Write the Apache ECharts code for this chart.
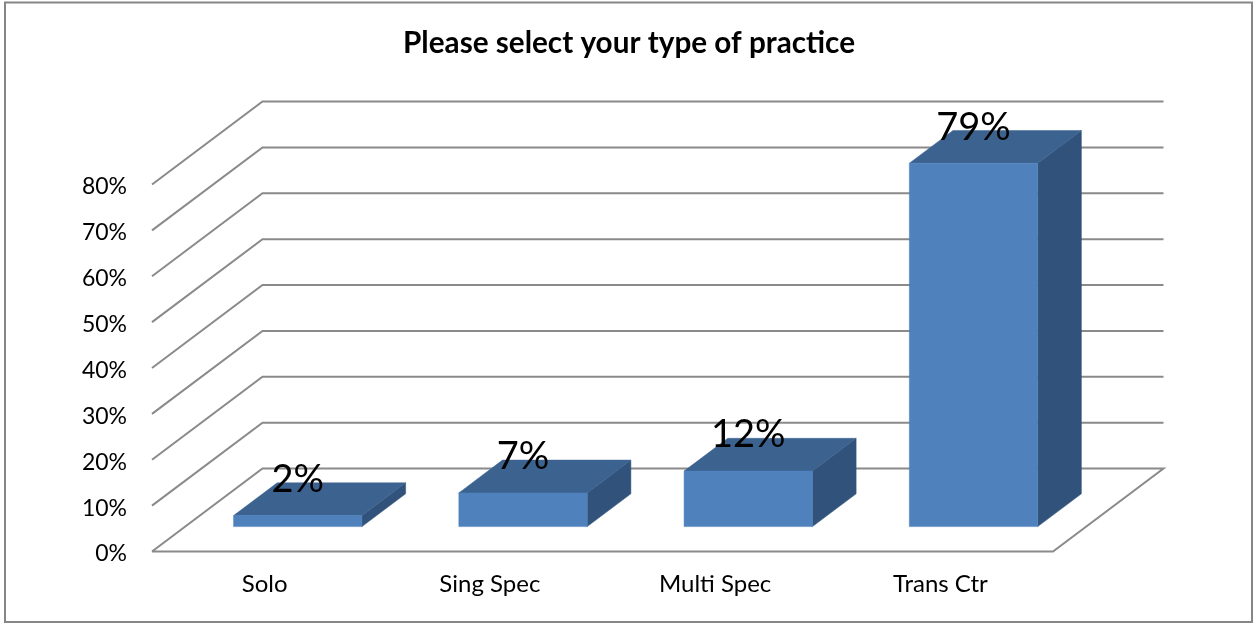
<!DOCTYPE html>
<html>
<head>
<meta charset="utf-8">
<style>html,body{margin:0;padding:0;background:#fff}#c{width:1254px;height:623px}</style>
<script src="https://cdn.jsdelivr.net/npm/echarts@6/dist/echarts.min.js"></script>
</head>
<body>
<div id="c"></div>
<script>
var titleText = 'Please select your type of practice';
var categories = ['Solo', 'Sing Spec', 'Multi Spec', 'Trans Ctr'];
var values = [2.4, 7.35, 12.1, 79.2];
var wallTicks = [0, 10, 20, 30, 40, 50, 60, 70, 80];

var FONT = 'Lato';
var DEPTH_X = 110.5, DEPTH_Y = -83;
var BAR_FRONT = 0.30, BAR_BACK = 0.695, BAR_WIDTH = 0.57;
var LINE = '#8a8a8a';

var chart = echarts.init(document.getElementById('c'), null, {renderer: 'canvas'});

function wallItem(params, api) {
  var r = params.coordSys;
  var v = api.value(0);
  var y = api.coord([0, v])[1];
  var pts = [[r.x, y], [r.x + DEPTH_X, y + DEPTH_Y], [r.x + r.width + DEPTH_X, y + DEPTH_Y]];
  if (v === 0) pts.push([r.x + r.width, y], [r.x, y]);
  return {
    type: 'polyline',
    shape: {points: pts},
    style: {stroke: LINE, lineWidth: 2, fill: null, lineJoin: 'miter'}
  };
}

function barItem(params, api) {
  var i = api.value(0), v = api.value(1);
  var top = api.coord([i, v]), base = api.coord([i, 0]);
  var w = api.size([1, 0])[0] * BAR_WIDTH;
  var fx = DEPTH_X * BAR_FRONT, fy = DEPTH_Y * BAR_FRONT;
  var bx = DEPTH_X * (BAR_BACK - BAR_FRONT), by = DEPTH_Y * (BAR_BACK - BAR_FRONT);
  var l = top[0] - w / 2 + fx, r = l + w;
  var t = top[1] + fy, b = base[1] + fy;
  function poly(points, color) {
    return {type: 'polygon', shape: {points: points},
      style: {fill: color, stroke: color, lineWidth: 0.5}};
  }
  return {
    type: 'group',
    children: [
      poly([[r, t], [r + bx, t + by], [r + bx, b + by], [r, b]], '#31527a'),
      poly([[l, t], [l + bx, t + by], [r + bx, t + by], [r, t]], '#3c6390'),
      poly([[l, t], [r, t], [r, b], [l, b]], '#4f81bd'),
      {type: 'text', z2: 10, style: {
        x: (l + r) / 2, y: t - 36,
        text: Math.round(v) + '%',
        fill: '#000', font: '38px ' + FONT, align: 'center', verticalAlign: 'middle'
      }}
    ]
  };
}

chart.setOption({
  animation: false,
  backgroundColor: '#fff',
  title: {
    text: titleText, left: 624, top: 23, textAlign: 'center',
    textStyle: {color: '#000', fontFamily: FONT, fontWeight: 'bold', fontSize: 29.7}
  },
  graphic: [{
    type: 'rect', z: -1, silent: true,
    shape: {x: 5, y: 2.5, width: 1247, height: 619.5},
    style: {fill: '#fff', stroke: '#868686', lineWidth: 2}
  }],
  grid: {left: 152, top: 184.5, width: 901, height: 367, containLabel: false},
  xAxis: {
    type: 'category', data: categories,
    axisLine: {show: false}, axisTick: {show: false}, splitLine: {show: false},
    axisLabel: {color: '#000', fontFamily: FONT, fontSize: 24, margin: 21}
  },
  yAxis: {
    type: 'value', min: 0, max: 80, interval: 10,
    axisLine: {show: false}, axisTick: {show: false}, splitLine: {show: false},
    axisLabel: {
      color: '#000', fontFamily: FONT, fontSize: 23, margin: 25,
      formatter: '{t|{value}%}',
      rich: {t: {color: '#000', fontFamily: FONT, fontSize: 23, padding: [5, 0, 0, 0]}}
    }
  },
  series: [
    {type: 'custom', coordinateSystem: 'cartesian2d', renderItem: wallItem, clip: false, z: 1,
      silent: true, encode: {y: 0},
      data: wallTicks.map(function (t) { return [t]; })},
    {type: 'custom', coordinateSystem: 'cartesian2d', renderItem: barItem, clip: false, z: 2,
      silent: true, encode: {x: 0, y: 1},
      data: values.map(function (v, i) { return [i, v]; })}
  ]
});
</script>
</body>
</html>
